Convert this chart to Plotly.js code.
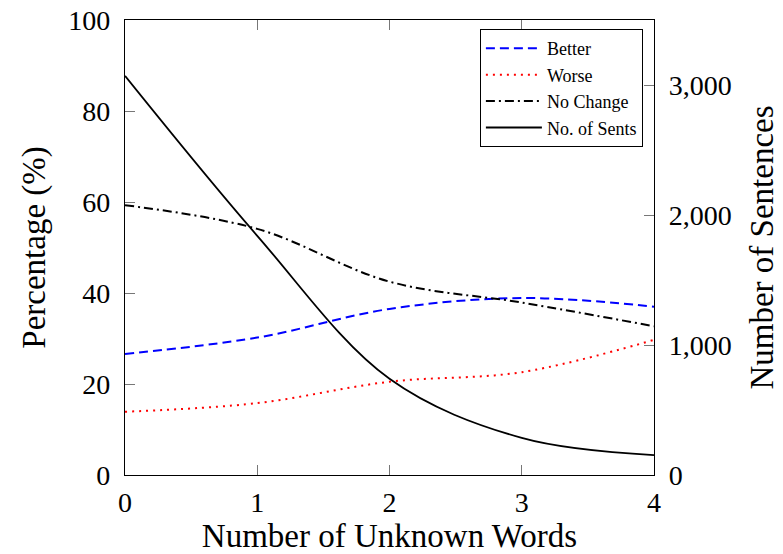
<!DOCTYPE html>
<html>
<head>
<meta charset="utf-8">
<script src="https://cdn.plot.ly/plotly-3.0.1.min.js"></script>
<style>html,body{margin:0;padding:0;background:#fff;}#chart{width:783px;height:554px;}</style>
</head>
<body>
<div id="chart"></div>
<script>
const unknownWords = [0, 1, 2, 3, 4];
const betterPct = [26.6, 30.2, 36.5, 38.9, 37.0];
const worsePct = [13.9, 15.8, 20.5, 22.6, 29.7];
const noChangePct = [59.3, 54.1, 42.5, 37.9, 32.7];
const numSents = [3070, 1840, 740, 285, 153];
const xTicks = [0, 1, 2, 3, 4];
const leftTicks = [0, 20, 40, 60, 80, 100];
const rightTicks = [0, 1000, 2000, 3000];

const FONT = "'Liberation Serif', 'DejaVu Serif', serif";
const traces = [
  {x: unknownWords, y: betterPct, name: 'Better', mode: 'lines', line: {color: '#0000ff', width: 2, dash: '9px,5px', shape: 'spline'}},
  {x: unknownWords, y: worsePct, name: 'Worse', mode: 'lines', line: {color: '#ff0000', width: 2, dash: '2px,5px', shape: 'spline'}},
  {x: unknownWords, y: noChangePct, name: 'No Change', mode: 'lines', line: {color: '#000000', width: 2, dash: '9px,4px,2px,4px', shape: 'spline'}},
  {x: unknownWords, y: numSents, name: 'No. of Sents', yaxis: 'y2', mode: 'lines', line: {color: '#000000', width: 1.8, shape: 'spline'}}
];
const layout = {
  width: 783, height: 554,
  margin: {l: 125, r: 129, t: 20, b: 79},
  paper_bgcolor: '#fff', plot_bgcolor: '#fff',
  font: {family: FONT, color: '#000', size: 28},
  showlegend: true,
  legend: {x: 0.979, y: 0.98, xanchor: 'right', yanchor: 'top', bordercolor: '#000', borderwidth: 1, bgcolor: '#fff',
    itemwidth: 56,
    font: {family: FONT, size: 18, color: '#000'}},
  xaxis: {range: [0, 4], tickvals: xTicks, ticks: 'inside', ticklen: 10, tickcolor: '#777', tickwidth: 1,
    showline: true, linecolor: '#000', linewidth: 1.2, mirror: 'ticks', showgrid: false, zeroline: false,
    tickfont: {family: FONT, size: 28}, ticklabelstandoff: 2,
    title: {text: 'Number of Unknown Words', font: {family: FONT, size: 33}, standoff: 13}},
  yaxis: {range: [0, 100], tickvals: leftTicks, ticks: 'inside', ticklen: 10, tickcolor: '#777', tickwidth: 1,
    showline: true, linecolor: '#000', linewidth: 1.2, showgrid: false, zeroline: false,
    tickfont: {family: FONT, size: 28}, ticklabelstandoff: 8,
    title: {text: 'Percentage (%)', font: {family: FONT, size: 33}, standoff: 12}},
  yaxis2: {range: [0, 3500], tickvals: rightTicks, tickformat: ',d', overlaying: 'y', side: 'right', ticks: 'inside', ticklen: 10, tickcolor: '#777', tickwidth: 1,
    showline: true, linecolor: '#000', linewidth: 1.2, showgrid: false, zeroline: false,
    tickfont: {family: FONT, size: 28}, ticklabelstandoff: 8,
    title: {text: 'Number of Sentences', font: {family: FONT, size: 33}, standoff: 19}}
};
Plotly.newPlot('chart', traces, layout, {displayModeBar: false, staticPlot: true});
</script>
</body>
</html>
